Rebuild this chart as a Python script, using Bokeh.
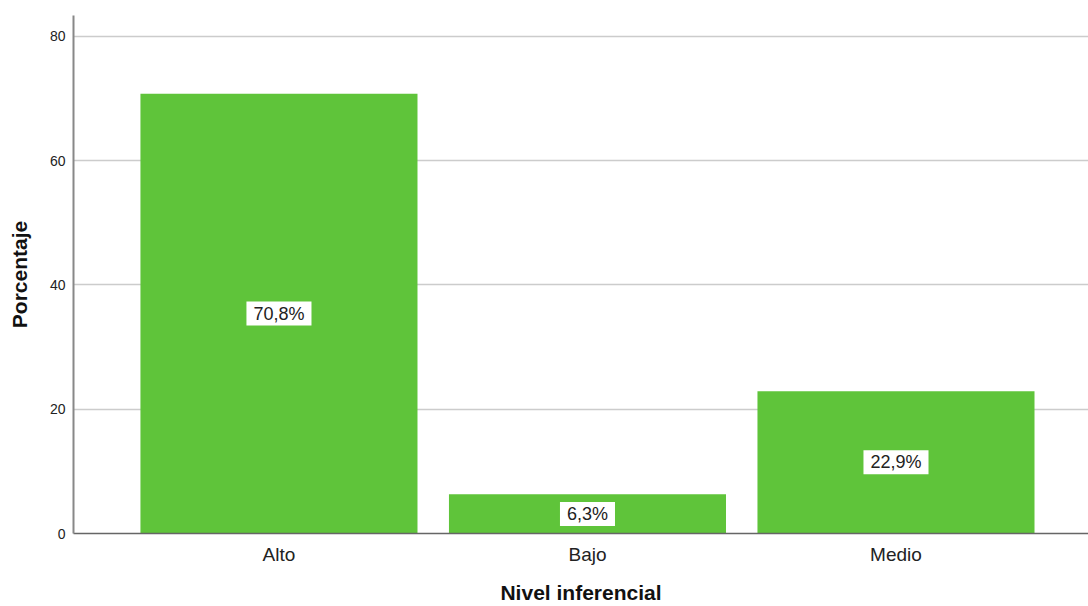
from bokeh.plotting import figure
from bokeh.models import ColumnDataSource, Range1d, FixedTicker
from bokeh.core.properties import value
from bokeh.embed import file_html
from bokeh.resources import INLINE

categories = ["Alto", "Bajo", "Medio"]
percentages = [70.8, 6.3, 22.9]
y_ticks = [0, 20, 40, 60, 80]

xs = list(range(len(categories)))
labels = [f"{v:.1f}%".replace(".", ",") for v in percentages]
mids = [v / 2 for v in percentages]

src = ColumnDataSource(dict(x=xs, top=percentages, mid=mids, label=labels))

FONT = "Liberation Sans"

p = figure(width=1088, height=606, output_backend="svg", toolbar_location=None,
           x_range=Range1d(-0.666, 2.624), y_range=Range1d(0, 83.38),
           min_border_left=73, min_border_right=0, min_border_top=15, min_border_bottom=73)
p.outline_line_color = None
p.background_fill_color = "white"
p.border_fill_color = "white"

p.vbar(x="x", top="top", width=0.898, bottom=0, source=src,
       fill_color="#5fc43a", line_color=None)

p.text(x="x", y="mid", text="label", source=src,
       text_align="center", text_baseline="middle",
       text_font=value(FONT), text_font_size="18px", text_color="#222222",
       background_fill_color="white", padding=(7, 2))

# grid
p.xgrid.grid_line_color = None
p.ygrid.ticker = FixedTicker(ticks=y_ticks)
p.ygrid.grid_line_color = "#cccccc"
p.ygrid.grid_line_width = 1.6

# y axis
p.yaxis.ticker = FixedTicker(ticks=y_ticks)
p.yaxis.axis_label = "Porcentaje"
p.yaxis.axis_label_text_font = FONT
p.yaxis.axis_label_text_font_style = "bold"
p.yaxis.axis_label_text_font_size = "21px"
p.yaxis.axis_label_text_color = "#111111"
p.yaxis.axis_label_standoff = 16
p.yaxis.major_label_text_font = FONT
p.yaxis.major_label_text_font_size = "14px"
p.yaxis.major_label_text_color = "#222222"
p.yaxis.major_label_standoff = 8
p.yaxis.major_tick_line_color = None
p.yaxis.minor_tick_line_color = None
p.yaxis.major_tick_out = 0
p.yaxis.major_tick_in = 0
p.yaxis.axis_line_color = "#888888"
p.yaxis.axis_line_width = 2

# x axis
p.xaxis.ticker = FixedTicker(ticks=xs)
p.xaxis.major_label_overrides = {i: c for i, c in zip(xs, categories)}
p.xaxis.axis_label = "Nivel inferencial"
p.xaxis.axis_label_text_font = FONT
p.xaxis.axis_label_text_font_style = "bold"
p.xaxis.axis_label_text_font_size = "21px"
p.xaxis.axis_label_text_color = "#111111"
p.xaxis.axis_label_standoff = 13
p.xaxis.major_label_text_font = FONT
p.xaxis.major_label_text_font_size = "19px"
p.xaxis.major_label_text_color = "#222222"
p.xaxis.major_label_standoff = 10
p.xaxis.major_tick_line_color = None
p.xaxis.minor_tick_line_color = None
p.xaxis.major_tick_out = 0
p.xaxis.major_tick_in = 0
p.xaxis.axis_line_color = "#666666"
p.xaxis.axis_line_width = 1.5

open("out.html", "w").write(file_html(p, INLINE))
